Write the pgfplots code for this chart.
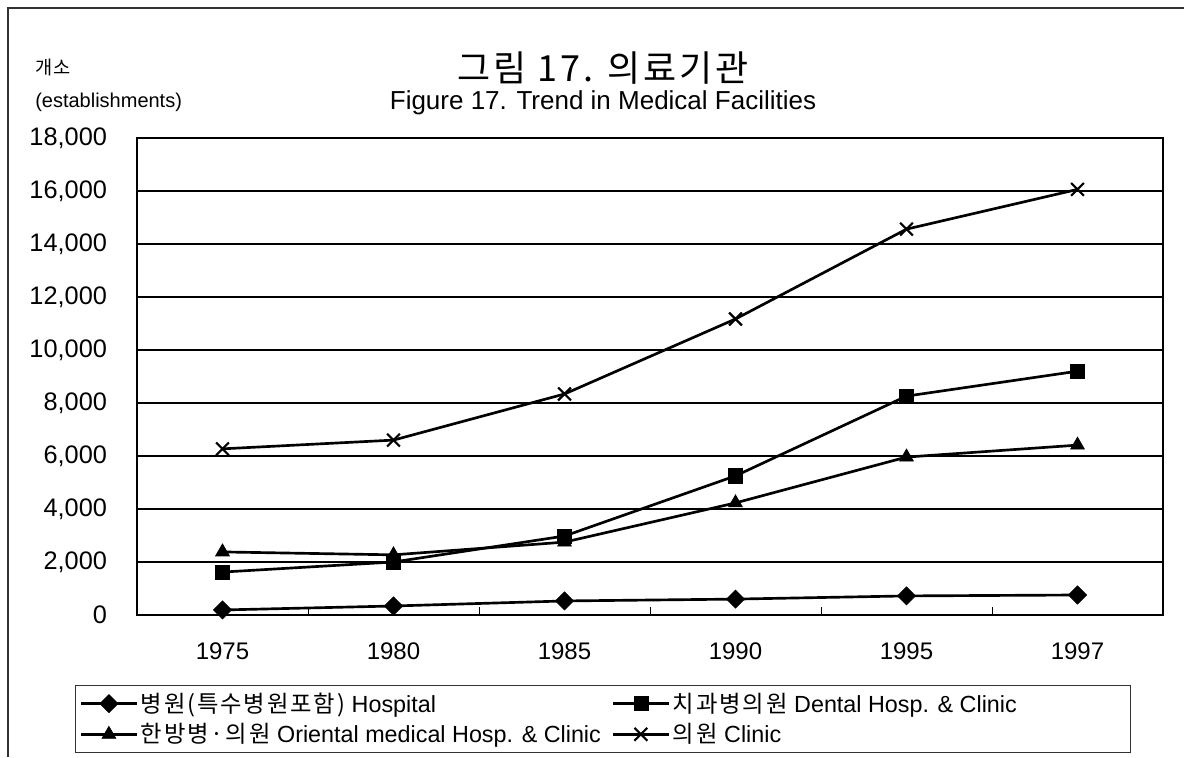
\documentclass[border=0pt]{standalone}
\usepackage{fontspec}
\setmainfont{Liberation Sans}
\newfontfamily\kr[LetterSpace=8]{Noto Sans CJK KR}
\usepackage{pgfplots}
\pgfplotsset{compat=1.18}
\begin{document}
\begin{tikzpicture}
\useasboundingbox (0,0) rectangle (888pt,567.75pt);
\draw[line width=1.5pt, black!80] (6pt,0pt) -- (6pt,561.75pt) -- (888pt,561.75pt);
\node at (452.25pt,516.75pt) {\fontsize{27}{30}\selectfont\kr 그림 17. 의료기관};
\node at (452.25pt,490.5pt) {\fontsize{19.5}{22}\selectfont Figure 17. Trend in Medical Facilities};
\node[anchor=west, inner sep=0pt] at (26.25pt,516.75pt) {\fontsize{14}{16}\selectfont\kr 개소};
\node[anchor=west, inner sep=0pt] at (26.25pt,491.25pt) {\fontsize{15}{17}\selectfont (establishments)};
\begin{axis}[
  at={(102.75pt,106.5pt)}, anchor=south west, scale only axis,
  width=769.5pt, height=357.75pt,
  xmin=-0.5, xmax=5.5, ymin=0, ymax=18000,
  xtick={0,1,2,3,4,5},
  xticklabels={1975,1980,1985,1990,1995,1997},
  minor xtick={0.5,1.5,2.5,3.5,4.5},
  ytick={0,2000,...,18000},
  major tick length=0pt, minor tick length=6pt,
  tick align=inside, xtick pos=left, ytick pos=left,
  tick style={black, line width=0.6pt},
  ymajorgrids, grid style={black, line width=0.8pt},
  axis line style={line width=1.8pt},
  scaled y ticks=false,
  /pgf/number format/assume math mode=true,
  /pgf/number format/fixed,
  /pgf/number format/1000 sep={,},
  tick label style={font=\fontsize{18}{20}\selectfont},
  yticklabel style={font=\fontsize{19}{21}\selectfont, xshift=-19pt},
  xticklabel style={yshift=-17pt},
  legend columns=2,
  legend style={at={(-0.0604,-0.1468)}, anchor=north west, draw=black!80, line width=0.8pt,
    font=\fontsize{17.5}{20}\selectfont, row sep=0pt,
    nodes={inner ysep=3.5pt, inner xsep=2pt},
    /tikz/every even column/.append style={column sep=6pt}},
  legend cell align=left,
  legend image code/.code={\draw[mark repeat=2,mark phase=2] plot coordinates {(0pt,0pt) (21pt,0pt) (42pt,0pt)};},
  every axis plot/.append style={black, line width=2pt},
]
\addplot[mark=square*, mark options={solid, rotate=45, mark size=4.8pt, line width=0.5pt}] coordinates {(0,190) (1,340) (2,530) (3,600) (4,720) (5,755)};
\addlegendentry{{\kr 병원(특수병원포함)} Hospital}
\addplot[mark=square*, mark options={solid, mark size=5.3pt, line width=0.5pt}] coordinates {(0,1620) (1,2000) (2,2980) (3,5250) (4,8260) (5,9200)};
\addlegendentry{{\kr 치과병의원} Dental Hosp. \& Clinic\makebox[80pt]{}}
\addplot[mark=triangle*, mark options={solid, mark size=6pt, line width=0.5pt}] coordinates {(0,2380) (1,2270) (2,2750) (3,4230) (4,5960) (5,6410)};
\addlegendentry{{\kr 한방병·의원} Oriental medical Hosp. \& Clinic}
\addplot[mark=x, mark options={solid, mark size=6.8pt, line width=1.6pt}] coordinates {(0,6270) (1,6600) (2,8340) (3,11170) (4,14560) (5,16060)};
\addlegendentry{{\kr 의원} Clinic}
\end{axis}
\end{tikzpicture}
\end{document}
